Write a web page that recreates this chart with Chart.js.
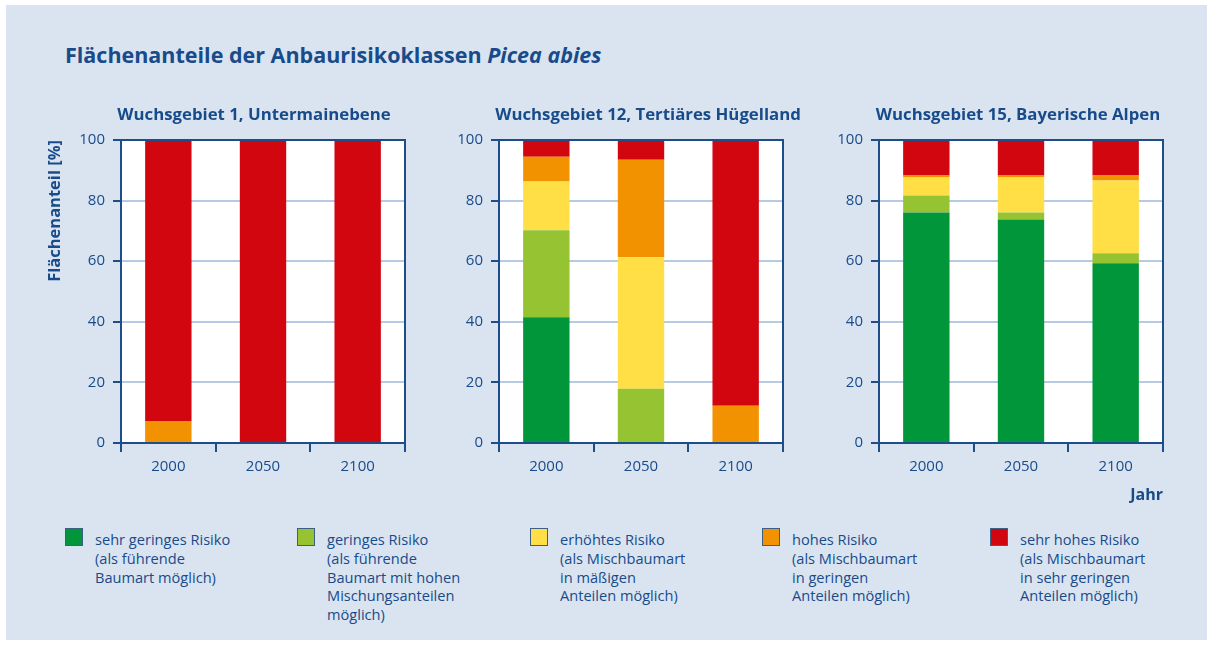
<!DOCTYPE html>
<html>
<head>
<meta charset="utf-8">
<script src="https://cdn.jsdelivr.net/npm/chart.js@4.4.1/dist/chart.umd.min.js"></script>
<style>
  body { margin: 0; background: #fff; font-family: "Open Sans", sans-serif; }
  #bg { position: absolute; left: 6px; top: 5px; width: 1201px; height: 635px; background: #dae4f1; }
  h1 { position: absolute; left: 65px; top: 40px; margin: 0; font-size: 21.5px; font-weight: 700; color: #184b8a; white-space: nowrap; }
  .box { position: absolute; top: 105px; width: 366px; height: 400px; }
  .pt { position: absolute; top: 104px; transform: translateX(-50%); font-size: 16.8px; line-height: 20px; font-weight: 700; color: #184b8a; white-space: nowrap; }
  .leg { position: absolute; top: 528px; color: #184b8a; font-size: 14.6px; line-height: 18.8px; }
  .leg i { position: absolute; left: 0; top: 0; width: 16px; height: 16px; border: 1px solid #3d5f86; }
  .leg span { position: absolute; left: 30px; top: 2px; white-space: nowrap; }
</style>
</head>
<body>
<div id="bg"></div>
<h1>Flächenanteile der Anbaurisikoklassen <i>Picea abies</i></h1>
<div class="box" style="left:41px"><canvas id="c0"></canvas></div>
<div class="box" style="left:419px"><canvas id="c1"></canvas></div>
<div class="box" style="left:799px"><canvas id="c2"></canvas></div>
<div id="titles"></div>
<div id="legend"></div>
<script>
// Jahre und Wuchsgebiete
const years = ['2000', '2050', '2100'];
const regions = ['Wuchsgebiet 1, Untermainebene', 'Wuchsgebiet 12, Tertiäres Hügelland', 'Wuchsgebiet 15, Bayerische Alpen'];

// Flächenanteil [%] je Wuchsgebiet (2000, 2050, 2100)
const sehrGering = [[0, 0, 0], [41.5, 0, 0], [76.1, 73.8, 59.3]];
const gering     = [[0, 0, 0], [28.7, 17.9, 0], [5.6, 2.3, 3.3]];
const erhoeht    = [[0, 0, 0], [16.1, 43.4, 0], [5.9, 11.5, 24.0]];
const hoch       = [[7.3, 0, 0], [8.2, 32.2, 12.3], [0.7, 0.7, 1.7]];
const sehrHoch   = [[92.7, 100, 100], [5.5, 6.5, 87.7], [11.7, 11.7, 11.7]];

const yTicks = [0, 20, 40, 60, 80, 100];

const classes = [
  { data: sehrGering, color: '#009639', text: ['sehr geringes Risiko', '(als führende', 'Baumart möglich)'] },
  { data: gering, color: '#96c331', text: ['geringes Risiko', '(als führende', 'Baumart mit hohen', 'Mischungsanteilen', 'möglich)'] },
  { data: erhoeht, color: '#ffdf45', text: ['erhöhtes Risiko', '(als Mischbaumart', 'in mäßigen', 'Anteilen möglich)'] },
  { data: hoch, color: '#f39200', text: ['hohes Risiko', '(als Mischbaumart', 'in geringen', 'Anteilen möglich)'] },
  { data: sehrHoch, color: '#d2060e', text: ['sehr hohes Risiko', '(als Mischbaumart', 'in sehr geringen', 'Anteilen möglich)'] }
];

const DARK = '#1d4e89';
const TEXT = '#184b8a';
const GRID = '#b7cae3';
const FONT = '"Open Sans", sans-serif';

// weisse Zeichenfläche + oberer und rechter Rahmen
const frame = {
  id: 'frame',
  beforeDraw(chart) {
    const { ctx, chartArea: a } = chart;
    ctx.save();
    ctx.fillStyle = '#ffffff';
    ctx.fillRect(a.left, a.top, a.right - a.left, a.bottom - a.top);
    ctx.restore();
  },
  afterDatasetsDraw(chart) {
    const { ctx, chartArea: a } = chart;
    ctx.save();
    ctx.strokeStyle = DARK;
    ctx.lineWidth = 2;
    ctx.beginPath();
    ctx.moveTo(a.left, a.top);
    ctx.lineTo(a.right, a.top);
    ctx.lineTo(a.right, a.bottom);
    ctx.stroke();
    ctx.restore();
  }
};

// Panel-Titel (Mitte in px, Titel ist etwas breiter als die Zeichenfläche)
const titleX = [254, 648, 1018];
const titles = document.getElementById('titles');
regions.forEach((name, p) => {
  const t = document.createElement('div');
  t.className = 'pt';
  t.style.left = titleX[p] + 'px';
  t.textContent = name;
  titles.appendChild(t);
});

regions.forEach((name, p) => {
  new Chart(document.getElementById('c' + p), {
    type: 'bar',
    data: {
      labels: years,
      datasets: classes.map(c => ({
        label: c.text[0],
        data: c.data[p],
        backgroundColor: c.color,
        borderWidth: 0,
        categoryPercentage: 1,
        barPercentage: 0.49
      }))
    },
    options: {
      responsive: true,
      maintainAspectRatio: false,
      animation: false,
      layout: { padding: { right: 2, top: 35 } },
      plugins: {
        legend: { display: false },
        tooltip: { enabled: false },
        title: { display: false }
      },
      scales: {
        x: {
          stacked: true,
          afterFit: s => { s.height = 62; },
          border: { color: DARK, width: 2 },
          grid: { offset: true, drawOnChartArea: false, drawTicks: true, tickLength: 9, tickColor: DARK, lineWidth: 2 },
          ticks: { color: TEXT, font: { family: FONT, size: 15 }, padding: 6 },
          title: {
            display: p === 2,
            text: 'Jahr',
            align: 'end',
            color: TEXT,
            font: { family: FONT, size: 16, weight: 'bold', lineHeight: 1.2 },
            padding: 0
          }
        },
        y: {
          stacked: true,
          min: 0,
          max: 100,
          afterFit: s => { s.width = 80; },
          afterBuildTicks: s => { s.ticks = yTicks.map(v => ({ value: v })); },
          border: { color: DARK, width: 2 },
          grid: { color: GRID, lineWidth: 2, tickColor: DARK, tickLength: 8 },
          ticks: { color: TEXT, font: { family: FONT, size: 15 }, padding: 8 },
          title: {
            display: p === 0,
            text: 'Flächenanteil [%]',
            align: 'end',
            color: TEXT,
            font: { family: FONT, size: 16.5, weight: 'bold', lineHeight: 1.2 },
            padding: { top: 4, bottom: 0 }
          }
        }
      }
    },
    plugins: [frame]
  });
});

// Legende mit mehrzeiligen Texten
const legX = [65, 297, 530, 762, 990];
const legend = document.getElementById('legend');
classes.forEach((c, i) => {
  const d = document.createElement('div');
  d.className = 'leg';
  d.style.left = legX[i] + 'px';
  d.innerHTML = '<i style="background:' + c.color + '"></i><span>' + c.text.join('<br>') + '</span>';
  legend.appendChild(d);
});
</script>
</body>
</html>
